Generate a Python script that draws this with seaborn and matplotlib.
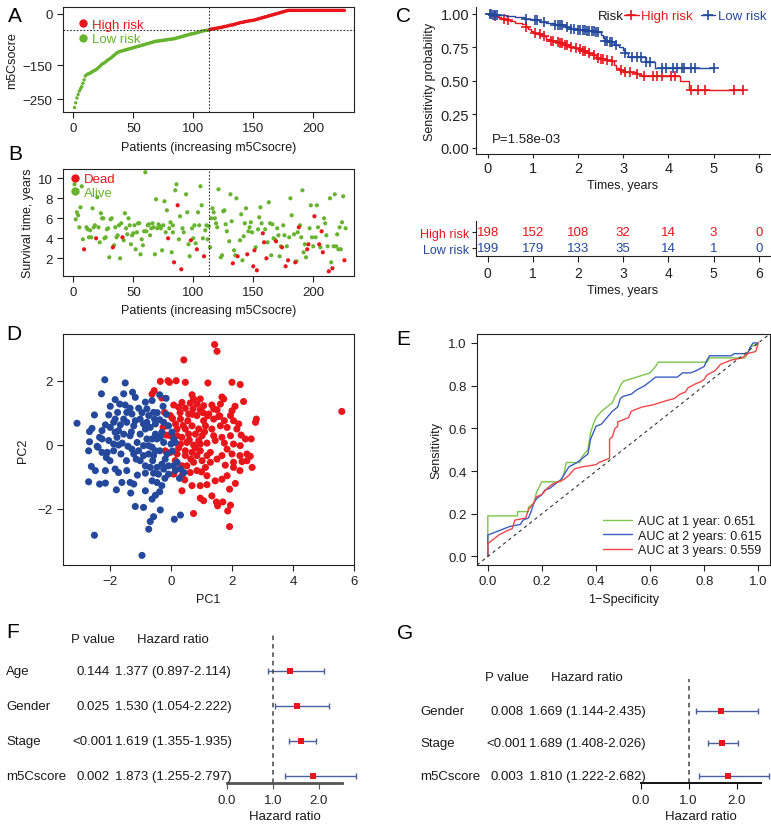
import numpy as np
import pandas as pd
import matplotlib
matplotlib.use("Agg")
import matplotlib.pyplot as plt
import matplotlib.transforms as mtransforms
from matplotlib.lines import Line2D
import seaborn as sns

# ---------------- data ----------------
# A: risk score per patient (sorted)
a_low = [-274, -260, -246, -236, -226, -219, -213, -203, -193, -182,
         -178, -176, -175, -173, -171, -169, -167, -165, -163, -160,
         -157, -154, -150, -147, -145, -143, -140, -137, -134, -132,
         -130, -127, -124, -121, -118, -115, -113, -111, -110, -109,
         -108, -107, -106, -105, -104, -103, -102, -101, -100, -99,
         -98, -97, -96, -95, -94, -93, -92, -91, -90, -89,
         -88, -87, -86, -85, -84, -83, -82, -81, -80, -80,
         -79, -79, -78, -78, -77, -77, -76, -76, -75, -75,
         -74, -74, -73, -73, -72, -71, -70, -69, -68, -67,
         -66, -65, -64, -63, -62, -61, -60, -59, -58, -58,
         -57, -56, -55, -54, -53, -52, -51, -50, -49, -49,
         -48, -48, -47]
a_high = [-46, -45, -44, -44, -43, -42, -42,
          -41, -40, -40, -39, -38, -37, -37, -36, -35, -34,
          -33, -33, -32, -31, -30, -29, -28, -27, -26, -25,
          -25, -24, -23, -22, -22, -21, -20, -20, -19, -19,
          -18, -17, -16, -15, -14, -13, -12, -11, -10, -9,
          -8, -7, -6, -5, -4, -3, -2, -1, 0, 1,
          2, 3, 4, 5, 6, 7, 8, 9,
          10, 10, 10, 10, 10, 10, 10, 10, 10, 10, 10, 10,
          10, 10, 10, 10, 10, 10, 10, 10, 10, 10, 10, 10,
          10, 10, 10, 10, 10, 10, 10, 10, 10, 10, 10, 10,
          10, 10, 10, 10, 10, 10, 10, 10, 10, 10, 10, 10]
a_cutoff = -47

# B: (patient, survival years)
b_dead = [(9, 2.9), (19, 4.0), (33, 3.1), (41, 4.1), (79, 4.0), (84, 1.6), (87, 7.3),
          (90, 0.9), (98, 3.8), (103, 2.9), (109, 2.2), (133, 1.5), (137, 2.2), (145, 2.4),
          (150, 1.2), (151, 2.8), (153, 0.8), (158, 4.5), (159, 3.6), (161, 2.0), (169, 3.7),
          (174, 3.1), (177, 1.2), (179, 1.8), (185, 1.6), (188, 5.1), (195, 2.9), (196, 3.4),
          (201, 6.2), (205, 3.4), (207, 4.7), (208, 2.6), (213, 0.7), (216, 1.0), (226, 1.8)]
b_alive = [(1, 9.4), (2, 5.9), (3, 6.6), (4, 6.3), (5, 5.1), (6, 7.1), (7, 9.2), (8, 3.9),
           (11, 5.1), (12, 4.9), (13, 4.1), (14, 4.8), (15, 4.1), (16, 7.0), (17, 5.1), (18, 5.3),
           (20, 8.1), (21, 5.1), (22, 3.6), (23, 6.5), (24, 6.0), (25, 6.0), (26, 4.0), (27, 4.1),
           (28, 4.9), (29, 5.0), (30, 2.1), (31, 5.9), (32, 6.0), (34, 3.3), (35, 5.1), (36, 4.1),
           (37, 4.3), (38, 5.3), (39, 2.0), (40, 5.5), (42, 3.8), (43, 6.5), (44, 5.0), (45, 4.4),
           (46, 6.0), (47, 5.3), (48, 3.4), (49, 4.3), (50, 4.5), (51, 5.3), (52, 2.9), (53, 4.6),
           (54, 5.5), (55, 5.5), (56, 2.4), (57, 3.9), (58, 3.3), (59, 4.7), (60, 10.6), (61, 4.7),
           (62, 5.3), (63, 5.4), (64, 4.3), (65, 5.0), (66, 5.5), (67, 5.1), (68, 2.4), (69, 7.9),
           (70, 5.0), (71, 5.4), (72, 5.2), (73, 5.0), (74, 2.8), (75, 5.3), (76, 7.7), (77, 4.6),
           (78, 6.8), (80, 5.0), (81, 5.6), (82, 2.6), (83, 5.3), (83, 4.6), (85, 8.8), (86, 9.4),
           (88, 3.9), (89, 6.2), (91, 5.0), (92, 4.6), (94, 8.4), (95, 6.6), (96, 3.4), (97, 2.2),
           (99, 5.0), (100, 4.0), (101, 5.3), (102, 3.5), (104, 6.6), (105, 5.3), (106, 9.2),
           (107, 7.3), (108, 4.0), (110, 4.8), (111, 5.3), (112, 3.9), (113, 5.2), (114, 3.1),
           (115, 6.0), (116, 7.0), (117, 6.6), (118, 6.0), (119, 5.5), (120, 5.1), (121, 8.9),
           (123, 2.1), (124, 2.3), (125, 6.7), (126, 6.8), (127, 5.4), (128, 4.7), (130, 3.7),
           (131, 8.4), (132, 5.7), (134, 2.8), (135, 2.3), (136, 8.0), (139, 3.8), (140, 6.4),
           (141, 1.8), (142, 4.2), (143, 5.5), (144, 7.0), (146, 4.7), (147, 5.1), (148, 5.6),
           (149, 4.6), (152, 3.1), (154, 4.9), (155, 6.1), (156, 7.1), (157, 5.5), (160, 4.9),
           (162, 3.6), (163, 7.6), (164, 5.5), (165, 2.3), (166, 5.4), (167, 4.0), (168, 3.9),
           (170, 5.0), (171, 4.3), (172, 2.2), (173, 3.2), (175, 5.3), (176, 4.3), (178, 3.2),
           (180, 4.1), (181, 8.0), (182, 6.3), (184, 4.4), (186, 1.7), (187, 4.6), (189, 5.3),
           (190, 4.1), (191, 8.8), (192, 2.6), (193, 3.4), (194, 2.1), (197, 5.0), (198, 7.3),
           (199, 4.1), (200, 3.2), (202, 4.1), (203, 7.3), (204, 5.1), (206, 3.1), (209, 6.0),
           (210, 5.5), (211, 4.3), (212, 3.2), (214, 8.0), (215, 1.6), (217, 3.2), (218, 8.4),
           (219, 3.2), (220, 4.4), (221, 2.9), (222, 5.1), (223, 2.9), (224, 5.6), (225, 8.2),
           (227, 5.0)]

# C: Kaplan-Meier steps (time, survival after drop) and censor times
km_high_t = [0.05, 0.1, 0.15, 0.2, 0.3, 0.4, 0.5, 0.6, 0.75, 0.85, 0.9, 0.95, 1.0, 1.1, 1.2,
             1.3, 1.4, 1.5, 1.6, 1.7, 1.8, 1.9, 2.0, 2.1, 2.2, 2.3, 2.4, 2.5, 2.6, 2.7, 2.8,
             2.85, 2.9, 3.0, 3.3, 3.4, 4.25, 4.45]
km_high_s = [0.995, 0.99, 0.985, 0.975, 0.965, 0.955, 0.945, 0.935, 0.925, 0.905, 0.89, 0.875,
             0.86, 0.85, 0.835, 0.815, 0.80, 0.79, 0.78, 0.765, 0.755, 0.745, 0.735, 0.72, 0.71,
             0.695, 0.675, 0.665, 0.66, 0.65, 0.62, 0.60, 0.58, 0.57, 0.55, 0.535, 0.50, 0.435]
km_high_cens = [0.15, 0.35, 0.45, 0.85, 1.05, 1.15, 1.25, 1.4, 1.45, 1.55, 1.6, 1.65, 1.7, 1.75,
                1.85, 1.95, 2.05, 2.1, 2.15, 2.25, 2.35, 2.45, 2.5, 2.55, 2.65, 2.75, 2.95, 3.05,
                3.15, 3.3, 3.45, 3.65, 3.75, 3.85, 4.05, 4.15, 4.5, 4.65, 4.8, 5.45, 5.65]
km_low_t = [0.1, 0.2, 0.4, 0.6, 0.8, 1.0, 1.15, 1.3, 1.5, 1.7, 1.85, 2.0, 2.2, 2.4, 2.5, 2.55,
            2.6, 2.7, 2.8, 2.9, 3.0, 3.05, 3.1, 3.5, 3.7]
km_low_s = [0.995, 0.99, 0.985, 0.975, 0.965, 0.955, 0.94, 0.93, 0.92, 0.905, 0.89, 0.88, 0.875,
            0.865, 0.845, 0.82, 0.80, 0.79, 0.77, 0.755, 0.73, 0.71, 0.68, 0.645, 0.60]
km_low_cens = [0.05, 0.08, 0.12, 0.15, 0.2, 0.85, 1.05, 1.1, 1.25, 1.5, 1.55, 1.6, 1.65, 1.75,
               1.85, 1.9, 2.0, 2.05, 2.1, 2.15, 2.2, 2.25, 2.3, 2.35, 2.4, 2.45, 2.6, 2.65, 2.7,
               2.75, 2.85, 3.05, 3.2, 3.3, 3.4, 3.5, 3.6, 3.85, 3.95, 4.1, 4.2, 4.3, 4.35, 4.5,
               4.6, 5.0]
km_pvalue = "P=1.58e-03"
risk_times = [0, 1, 2, 3, 4, 5, 6]
high_at_risk = [198, 152, 108, 32, 14, 3, 0]
low_at_risk = [199, 179, 133, 35, 14, 1, 0]

# D: PCA coordinates
pca_high = [(1.43, 3.13), (1.51, 2.92), (0.42, 2.65), (-0.35, 1.98), (-0.10, 2.00), (-0.05, 1.95),
            (0.17, 2.00), (0.47, 1.95), (1.21, 1.93), (2.00, 1.95), (2.27, 1.88), (-0.55, 1.69),
            (-0.62, 1.58), (-0.30, 1.46), (0.69, 1.56), (0.96, 1.43), (1.73, 1.43), (2.38, 1.35),
            (0.36, 1.32), (0.63, 1.30), (0.85, 1.27), (1.07, 1.22), (1.34, 1.24), (1.62, 1.27),
            (0.09, 1.24), (0.25, 1.17), (0.47, 1.14), (0.72, 1.12), (0.96, 1.09), (1.24, 0.96),
            (1.51, 1.09), (2.00, 1.06), (5.60, 1.04), (-0.21, 1.01), (-0.02, 0.91), (0.05, 0.82),
            (0.31, 0.80), (0.58, 0.96), (0.85, 0.91), (1.07, 0.75), (1.40, 0.80), (1.56, 0.88),
            (1.75, 0.75), (2.05, 0.75), (2.22, 0.65), (2.80, 0.80), (2.77, 0.70), (-0.26, 0.54),
            (-0.13, 0.59), (0.20, 0.49), (0.47, 0.49), (0.69, 0.59), (0.91, 0.49), (1.13, 0.59),
            (1.34, 0.49), (1.62, 0.59), (1.84, 0.54), (0.20, 0.28), (0.36, 0.23), (0.58, 0.33),
            (0.80, 0.33), (1.02, 0.28), (1.40, 0.28), (1.67, 0.23), (2.44, 0.18), (2.63, 0.18),
            (0.31, 0.02), (0.52, 0.07), (0.74, -0.01), (0.96, 0.02), (1.18, 0.05), (2.05, 0.02),
            (-0.19, -0.19), (-0.02, -0.24), (0.20, -0.29), (0.47, -0.19), (0.69, -0.24),
            (0.96, -0.19), (1.29, -0.24), (1.84, -0.14), (2.00, -0.29), (2.26, -0.34),
            (2.60, -0.36), (0.14, -0.50), (0.36, -0.66), (0.74, -0.55), (1.02, -0.50),
            (1.29, -0.55), (2.05, -0.55), (2.33, -0.53), (2.49, -0.50), (2.66, -0.71),
            (2.05, -0.71), (1.78, -0.64), (1.13, -0.71), (0.85, -0.81), (0.63, -0.87),
            (0.36, -0.97), (0.09, -0.92), (1.18, -0.97), (1.84, -0.97), (2.26, -0.81),
            (1.45, -1.13), (1.67, -1.08), (2.11, -1.21), (0.69, -1.28), (0.96, -1.28),
            (1.18, -1.25), (0.36, -1.44), (1.92, -1.39), (0.96, -1.67), (1.07, -1.75),
            (1.34, -1.60), (1.49, -1.79), (1.53, -1.91), (1.70, -1.79), (1.95, -1.89),
            (1.86, -2.07), (0.74, -2.15), (1.92, -2.56), (0.47, -0.34), (0.52, -0.66),
            (0.85, -0.34), (1.18, -0.34), (1.51, -0.45), (1.67, -0.34), (-0.02, 0.28),
            (0.09, 0.07), (0.91, 0.13), (1.45, 0.13), (1.95, 0.28), (2.27, -0.03), (2.49, -0.29),
            (2.16, 0.49), (1.95, 0.91), (1.67, 1.49), (1.40, 1.12), (0.74, 1.43), (0.40, 0.60),
            (0.60, 0.15), (0.80, -0.10), (1.10, 0.40), (0.25, -0.10), (0.55, 0.75), (1.20, 0.90),
            (1.00, -0.85), (0.45, -1.10), (1.60, 0.90), (2.30, 0.30), (1.75, 0.05), (0.15, 0.65),
            (0.70, 0.95), (1.05, 1.00), (0.30, 1.00), (-0.15, 0.30), (0.30, -0.75), (0.65, -0.45),
            (2.10, 1.20)]
pca_low = [(-3.08, 0.67), (-2.51, -2.83), (-0.95, -3.46), (-2.17, 2.03), (-2.28, 1.59),
           (-1.50, 1.93), (-1.26, 1.64), (-1.17, 1.48), (-1.83, 1.41), (-1.55, 1.59), (-1.68, 1.27),
           (-1.50, 1.24), (-1.34, 1.14), (-1.99, 1.20), (-1.75, 1.01), (-1.45, 1.01), (-1.28, 0.96),
           (-2.51, 0.93), (-2.04, 0.93), (-1.06, 1.14), (-0.84, 1.33), (-0.62, 1.38), (-0.79, 1.12),
           (-0.57, 1.01), (-0.37, 1.56), (-0.16, 1.45), (-0.26, 1.20), (-2.67, 0.41), (-2.59, 0.51),
           (-2.15, 0.62), (-1.88, 0.70), (-1.66, 0.62), (-1.45, 0.70), (-1.22, 0.59), (-1.83, 0.39),
           (-1.77, 0.23), (-2.34, 0.23), (-2.26, 0.18), (-2.04, 0.13), (-1.88, 0.02), (-1.72, -0.01),
           (-1.41, -0.05), (-1.11, 0.07), (-0.90, -0.03), (-2.39, -0.08), (-2.70, -0.19),
           (-2.09, -0.24), (-1.22, -0.29), (-1.06, -0.19), (-0.79, 0.70), (-0.68, 0.54),
           (-0.84, 0.49), (-1.01, 0.33), (-0.51, 0.33), (-0.35, 0.23), (-0.46, 0.18), (-0.24, 0.07),
           (-0.62, -0.08), (-0.37, -0.19), (-0.57, -0.34), (-0.73, -0.29), (-0.90, -0.34),
           (-2.12, -0.40), (-1.46, -0.50), (-0.84, -0.66), (-0.68, -0.71), (-0.46, -0.71),
           (-0.24, -0.76), (-2.61, -0.68), (-2.48, -0.81), (-2.15, -0.81), (-1.83, -0.76),
           (-1.72, -0.87), (-1.45, -0.81), (-0.84, -0.89), (-0.57, -0.89), (-0.41, -0.92),
           (-0.08, -0.66), (0.09, -0.66), (0.31, -0.76), (0.42, -0.87), (0.28, -1.05),
           (0.14, -0.81), (-2.70, -1.16), (-2.34, -1.23), (-2.15, -1.20), (-1.61, -1.18),
           (-1.34, -1.18), (-1.22, -1.23), (-0.62, -1.13), (-0.46, -1.18), (-1.79, -1.41),
           (-1.32, -1.51), (-0.84, -1.44), (-0.30, -1.28), (-0.37, -1.47), (-0.51, -1.58),
           (-0.62, -1.70), (-1.17, -1.93), (-0.90, -1.96), (-0.35, -2.04), (0.31, -2.20),
           (0.11, -2.33), (-0.57, -2.25), (-0.68, -2.40), (-0.73, -2.64), (-0.24, 0.70),
           (-0.08, 0.59), (0.03, 0.39), (-0.30, 0.39), (0.09, 0.18), (0.14, 0.07), (0.00, 0.02),
           (-0.37, 0.78), (-0.54, 0.80), (-0.73, 0.91), (-1.01, 0.80), (-1.17, 0.75), (-2.67, 0.09),
           (-2.42, -0.05), (-2.26, -0.24), (-1.88, -0.19), (-1.64, -0.29), (-1.28, -0.14),
           (-1.14, -0.45), (-1.01, -0.50), (-0.19, -0.45), (-0.13, -0.29), (0.20, -0.55),
           (-1.72, 0.44), (-1.55, 0.33), (-1.34, 0.28), (-2.26, 0.44), (-1.83, 0.80), (-1.55, 0.80),
           (-1.99, 0.54), (-0.51, 0.65), (-0.90, 0.65), (-0.62, 0.18), (-0.79, 0.18), (-0.73, -0.03),
           (-0.51, -0.19), (-0.30, -0.61), (-0.08, -0.92), (-0.45, 1.00), (-0.20, -1.05),
           (-1.10, -0.95), (-1.60, 0.05), (-2.00, -0.50), (-0.95, 1.00), (-1.30, 0.40),
           (-0.60, -0.50), (0.05, -0.20), (-0.15, 0.95)]

# E: time-dependent ROC
roc1_fpr = [0, 0, 0.11, 0.11, 0.15, 0.15, 0.17, 0.18, 0.20, 0.27, 0.28, 0.29, 0.34, 0.35, 0.37,
            0.38, 0.39, 0.40, 0.42, 0.44, 0.46, 0.47, 0.48, 0.49, 0.50, 0.55, 0.60, 0.62, 0.63,
            0.81, 0.82, 0.95, 0.96, 0.97, 1.0]
roc1_tpr = [0, 0.19, 0.19, 0.21, 0.21, 0.23, 0.25, 0.30, 0.35, 0.35, 0.38, 0.44, 0.44, 0.47, 0.50,
            0.58, 0.62, 0.65, 0.68, 0.70, 0.72, 0.75, 0.77, 0.80, 0.82, 0.84, 0.86, 0.89, 0.91,
            0.91, 0.93, 0.93, 0.95, 0.98, 1.0]
roc2_fpr = [0, 0, 0.02, 0.04, 0.06, 0.08, 0.12, 0.13, 0.15, 0.16, 0.17, 0.18, 0.20, 0.21, 0.23,
            0.25, 0.27, 0.29, 0.30, 0.33, 0.35, 0.37, 0.38, 0.39, 0.40, 0.42, 0.44, 0.46, 0.48,
            0.49, 0.50, 0.53, 0.55, 0.58, 0.60, 0.62, 0.70, 0.72, 0.75, 0.77, 0.80, 0.81, 0.82,
            0.90, 0.91, 0.96, 0.97, 0.98, 1.0]
roc2_tpr = [0, 0.10, 0.11, 0.12, 0.13, 0.14, 0.15, 0.17, 0.18, 0.21, 0.25, 0.27, 0.29, 0.31, 0.32,
            0.34, 0.36, 0.40, 0.42, 0.44, 0.46, 0.48, 0.55, 0.58, 0.61, 0.62, 0.65, 0.68, 0.70,
            0.74, 0.75, 0.76, 0.78, 0.80, 0.82, 0.84, 0.84, 0.86, 0.86, 0.87, 0.89, 0.92, 0.94,
            0.94, 0.95, 0.95, 0.98, 1.0, 1.0]
roc3_fpr = [0, 0, 0.02, 0.04, 0.07, 0.09, 0.10, 0.14, 0.15, 0.17, 0.18, 0.20, 0.22, 0.24, 0.26,
            0.28, 0.30, 0.32, 0.35, 0.40, 0.41, 0.45, 0.45, 0.46, 0.47, 0.48, 0.48, 0.52, 0.53,
            0.57, 0.61, 0.66, 0.69, 0.71, 0.73, 0.74, 0.77, 0.79, 0.80, 0.81, 0.84, 0.86, 0.90,
            0.94, 0.96, 0.99, 1.0]
roc3_tpr = [0, 0.06, 0.08, 0.10, 0.12, 0.13, 0.17, 0.18, 0.22, 0.25, 0.28, 0.29, 0.32, 0.34, 0.35,
            0.36, 0.38, 0.41, 0.42, 0.43, 0.44, 0.46, 0.55, 0.56, 0.60, 0.61, 0.63, 0.65, 0.68,
            0.70, 0.71, 0.73, 0.74, 0.76, 0.77, 0.79, 0.81, 0.82, 0.83, 0.85, 0.87, 0.90, 0.92,
            0.93, 0.95, 0.96, 1.0]
roc_labels = ["AUC at 1 year: 0.651", "AUC at 2 years: 0.615", "AUC at 3 years: 0.559"]

# F / G: Cox regression
f_vars = ["Age", "Gender", "Stage", "m5Cscore"]
f_p = ["0.144", "0.025", "<0.001", "0.002"]
f_hr = [1.377, 1.530, 1.619, 1.873]
f_lo = [0.897, 1.054, 1.355, 1.255]
f_hi = [2.114, 2.222, 1.935, 2.797]
g_vars = ["Gender", "Stage", "m5Cscore"]
g_p = ["0.008", "<0.001", "0.003"]
g_hr = [1.669, 1.689, 1.810]
g_lo = [1.144, 1.408, 1.222]
g_hi = [2.435, 2.026, 2.682]

# ---------------- style ----------------
sns.set_style("ticks")
plt.rcParams['font.family'] = ['Liberation Sans', 'DejaVu Sans']
plt.rcParams['font.size'] = 9
plt.rcParams['axes.linewidth'] = 0.8
plt.rcParams['axes.edgecolor'] = '#222222'
plt.rcParams['xtick.color'] = '#222222'
plt.rcParams['ytick.color'] = '#222222'
plt.rcParams['xtick.major.size'] = 4
plt.rcParams['ytick.major.size'] = 4
plt.rcParams['xtick.major.width'] = 0.8
plt.rcParams['ytick.major.width'] = 0.8
plt.rcParams['text.color'] = '#1a1a1a'
plt.rcParams['axes.labelcolor'] = '#1a1a1a'

RED = '#E8161B'
GREEN = '#66B32E'
BLUE = '#24499C'
BAR_BLUE = '#4A5F9B'

W, H = 771, 829
fig = plt.figure(figsize=(W / 100, H / 100), dpi=100)


def add_ax(left, top, right, bottom):
    return fig.add_axes([left / W, 1 - bottom / H, (right - left) / W, (bottom - top) / H])


def fig_text(x, y, s, **kw):
    fig.text(x / W, 1 - y / H, s, **kw)


for letter, (lx, ly) in {'A': (8, 17), 'B': (8, 154), 'C': (396, 17), 'D': (6, 335),
                         'E': (396, 340), 'F': (6, 633), 'G': (397, 634)}.items():
    fig_text(lx, ly, letter, fontsize=15, ha='left', va='center', color='black')

# ---------------- A ----------------
axA = add_ax(63, 8, 354, 113)
a_scores = a_low + a_high
a_df = pd.DataFrame({'patient': np.arange(1, len(a_scores) + 1), 'score': a_scores,
                     'risk': ['Low risk'] * len(a_low) + ['High risk'] * len(a_high)})
sns.scatterplot(data=a_df, x='patient', y='score', hue='risk',
                palette={'High risk': RED, 'Low risk': GREEN}, s=6, linewidth=0,
                legend=False, ax=axA)
axA.axvline(len(a_low), color='#333333', ls=(0, (1.5, 1.5)), lw=0.8)
axA.axhline(a_cutoff, color='#333333', ls=(0, (1.5, 1.5)), lw=0.8)
axA.set_xlim(-8.6, 234)
axA.set_ylim(-287, 20)
axA.set_xticks([0, 50, 100, 150, 200])
axA.set_yticks([0, -150, -250])
axA.tick_params(labelsize=9.5)
axA.set_xlabel('Patients (increasing m5Csocre)', fontsize=9, labelpad=5)
axA.set_ylabel('m5Csocre', fontsize=9, labelpad=3)
hA = [Line2D([], [], ls='', marker='o', markersize=5, color=RED, label='High risk'),
      Line2D([], [], ls='', marker='o', markersize=5, color=GREEN, label='Low risk')]
axA.legend(handles=hA, loc='upper left', frameon=False, fontsize=9.5, handletextpad=0.1,
           labelspacing=0.15, borderaxespad=0.5, handlelength=1.2,
           labelcolor='markerfacecolor')

# ---------------- B ----------------
axB = add_ax(63, 170, 354, 277)
b_df = pd.DataFrame(b_alive + b_dead, columns=['patient', 'time'])
b_df['status'] = ['Alive'] * len(b_alive) + ['Dead'] * len(b_dead)
sns.scatterplot(data=b_df, x='patient', y='time', hue='status',
                palette={'Alive': GREEN, 'Dead': RED}, s=9, linewidth=0, legend=False, ax=axB)
axB.axvline(len(a_low), color='#333333', ls=(0, (1.5, 1.5)), lw=0.8)
axB.set_xlim(-8.6, 234)
axB.set_ylim(0.23, 10.93)
axB.set_xticks([0, 50, 100, 150, 200])
axB.set_yticks([2, 4, 6, 8, 10])
axB.tick_params(labelsize=9.5)
axB.set_xlabel('Patients (increasing m5Csocre)', fontsize=9, labelpad=4)
axB.set_ylabel('Survival time, years', fontsize=9, labelpad=3)
hB = [Line2D([], [], ls='', marker='o', markersize=5, color=RED, label='Dead'),
      Line2D([], [], ls='', marker='o', markersize=5, color=GREEN, label='Alive')]
axB.legend(handles=hB, loc='upper left', frameon=False, fontsize=9.5, handletextpad=0.1,
           labelspacing=0.1, borderaxespad=-0.1, handlelength=1.2,
           labelcolor='markerfacecolor')

# ---------------- C ----------------
axC = add_ax(476, 8, 770, 155)


def km_draw(ax, times, surv, cens, color):
    t_path = np.concatenate([[0.0], times, [max(cens)]])
    s_path = np.concatenate([[1.0], surv, [surv[-1]]])
    ax.step(t_path, s_path, where='post', color=color, lw=1.0)
    idx = np.searchsorted(t_path, cens, side='right') - 1
    ax.plot(cens, s_path[idx], ls='', marker='+', color=color, markersize=7, mew=1.2)


km_draw(axC, km_high_t, km_high_s, km_high_cens, RED)
km_draw(axC, km_low_t, km_low_s, km_low_cens, BLUE)
axC.set_xlim(-0.26, 6.25)
axC.set_ylim(-0.045, 1.052)
axC.set_xticks(risk_times)
axC.set_yticks([0, 0.25, 0.5, 0.75, 1.0])
axC.set_yticklabels(['0.00', '0.25', '0.50', '0.75', '1.00'])
sns.despine(ax=axC)
axC.tick_params(labelsize=10.5, length=3, pad=2)
axC.set_xlabel('Times, years', fontsize=9, labelpad=3)
axC.set_ylabel('Sensitivity probability', fontsize=9, labelpad=3)
axC.text(0.09, 0.07, km_pvalue, fontsize=9.5, ha='left', va='center')
fig_text(598, 17, 'Risk', fontsize=9.5, ha='left', va='center')
hC = [Line2D([], [], color=RED, marker='+', markersize=7, mew=1.2, lw=1, label='High risk'),
      Line2D([], [], color=BLUE, marker='+', markersize=7, mew=1.2, lw=1, label='Low risk')]
fig.legend(handles=hC, loc='center left', bbox_to_anchor=(624 / W, 1 - 17 / H), ncol=2,
           frameon=False, fontsize=9.5, handlelength=1.1, handletextpad=0.2,
           columnspacing=0.6, labelcolor='linecolor', borderaxespad=0, borderpad=0)

# risk table
axT = add_ax(476, 222, 770, 257)
for t, n in zip(risk_times, high_at_risk):
    axT.text(t, 1, str(n), color=RED, ha='center', va='center', fontsize=9.5)
for t, n in zip(risk_times, low_at_risk):
    axT.text(t, 0, str(n), color=BLUE, ha='center', va='center', fontsize=9.5)
axT.set_xlim(-0.26, 6.25)
axT.set_ylim(-0.5, 1.69)
axT.set_xticks(risk_times)
axT.set_yticks([1, 0])
axT.set_yticklabels(['High risk', 'Low risk'], fontsize=9)
for lab, col in zip(axT.get_yticklabels(), [RED, BLUE]):
    lab.set_color(col)
sns.despine(ax=axT)
axT.tick_params(axis='x', labelsize=10, length=4, pad=3)
axT.tick_params(axis='y', length=3, pad=2)
axT.set_xlabel('Times, years', fontsize=9, labelpad=3)

# ---------------- D ----------------
axD = add_ax(63, 335, 354, 566)
d_df = pd.DataFrame(pca_high + pca_low, columns=['PC1', 'PC2'])
d_df['risk'] = ['High'] * len(pca_high) + ['Low'] * len(pca_low)
sns.scatterplot(data=d_df, x='PC1', y='PC2', hue='risk', palette={'High': RED, 'Low': BLUE},
                s=26, linewidth=0, legend=False, ax=axD)
axD.set_xlim(-3.54, 6.0)
axD.set_ylim(-3.76, 3.46)
axD.set_xticks([-2, 0, 2, 4, 6])
axD.set_yticks([-2, 0, 2])
axD.tick_params(labelsize=9.5)
axD.set_xlabel('PC1', fontsize=9, labelpad=4)
axD.set_ylabel('PC2', fontsize=9, labelpad=6)

# ---------------- E ----------------
axE = add_ax(477, 335, 770, 566)
roc_df = pd.concat([
    pd.DataFrame({'fpr': roc1_fpr, 'tpr': roc1_tpr, 'curve': roc_labels[0]}),
    pd.DataFrame({'fpr': roc2_fpr, 'tpr': roc2_tpr, 'curve': roc_labels[1]}),
    pd.DataFrame({'fpr': roc3_fpr, 'tpr': roc3_tpr, 'curve': roc_labels[2]}),
], ignore_index=True)
sns.lineplot(data=roc_df, x='fpr', y='tpr', hue='curve', hue_order=roc_labels,
             palette=['#7CC54B', '#3A5FBF', '#F2474A'], sort=False, estimator=None,
             lw=1.0, ax=axE)
axE.axline((0, 0), slope=1, color='#333333', ls=(0, (3, 3)), lw=0.8)
axE.set_xlim(-0.04, 1.043)
axE.set_ylim(-0.04, 1.042)
axE.set_xticks([0, 0.2, 0.4, 0.6, 0.8, 1.0])
axE.set_yticks([0, 0.2, 0.4, 0.6, 0.8, 1.0])
axE.set_xticklabels(['0.0', '0.2', '0.4', '0.6', '0.8', '1.0'])
axE.set_yticklabels(['0.0', '0.2', '0.4', '0.6', '0.8', '1.0'])
axE.tick_params(labelsize=9.5)
axE.set_xlabel('1\u2212Specificity', fontsize=9, labelpad=4)
axE.set_ylabel('Sensitivity', fontsize=9, labelpad=4)
axE.legend(loc='lower right', frameon=False, fontsize=9, handlelength=2.3,
           handletextpad=0.5, labelspacing=0.2, borderaxespad=0.3)


# ---------------- F / G ----------------
def forest(ax, names, pvals, hr, lo, hi, rows, label_x, p_x, hr_x, head_y, dash_top,
           axis_color, axis_lw):
    hr = np.array(hr)
    lo = np.array(lo)
    hi = np.array(hi)
    ax.errorbar(hr, rows, xerr=[hr - lo, hi - hr], fmt='none', ecolor=BAR_BLUE,
                elinewidth=1.0, capsize=2.2, capthick=1.0, clip_on=False, zorder=2)
    sns.scatterplot(x=hr, y=rows, marker='s', color=RED, s=22, linewidth=0, ax=ax,
                    zorder=3, clip_on=False)
    ax.vlines(1, ax.get_ylim()[0], dash_top, colors='#444444', linestyles=(0, (3, 2.5)),
              lw=1.1)
    for side in ['left', 'top', 'right']:
        ax.spines[side].set_visible(False)
    ax.spines['bottom'].set_bounds(0, 2.5)
    ax.spines['bottom'].set_color(axis_color)
    ax.spines['bottom'].set_linewidth(axis_lw)
    ax.set_xticks([0, 1, 2])
    ax.set_xticklabels(['0.0', '1.0', '2.0'])
    ax.set_yticks([])
    ax.tick_params(axis='x', labelsize=9.5, length=4, color=axis_color, pad=4)
    ax.set_xlabel('Hazard ratio', fontsize=9.5, labelpad=3)
    ax.set_ylabel('')
    trans = mtransforms.blended_transform_factory(fig.transFigure, ax.transData)
    for name, p, h, l, u, r in zip(names, pvals, hr, lo, hi, rows):
        ax.text(label_x / W, r, name, transform=trans, ha='left', va='center', fontsize=9.5)
        ax.text(p_x / W, r, p, transform=trans, ha='center', va='center', fontsize=9.5)
        ax.text(hr_x / W, r, f"{h:.3f} ({l:.3f}-{u:.3f})", transform=trans, ha='center',
                va='center', fontsize=9.5)
    fig_text(p_x, head_y, 'P value', ha='center', va='center', fontsize=9.5)
    fig_text(hr_x, head_y, 'Hazard ratio', ha='center', va='center', fontsize=9.5)


axF = add_ax(227, 630, 342, 784)
axF.set_xlim(0, 2.5)
axF.set_ylim(0.8, 5.2)
forest(axF, f_vars, f_p, f_hr, f_lo, f_hi, [4, 3, 2, 1], 6, 93, 173, 640, 5.06,
       '#555555', 2.0)

axG = add_ax(640.7, 670, 760.7, 784)
axG.set_xlim(0, 2.5)
axG.set_ylim(0.785, 4.29)
forest(axG, g_vars, g_p, g_hr, g_lo, g_hi, [3, 2, 1], 420, 507, 587, 678, 3.98,
       '#111111', 1.4)

fig.savefig('out.png', dpi=100)
